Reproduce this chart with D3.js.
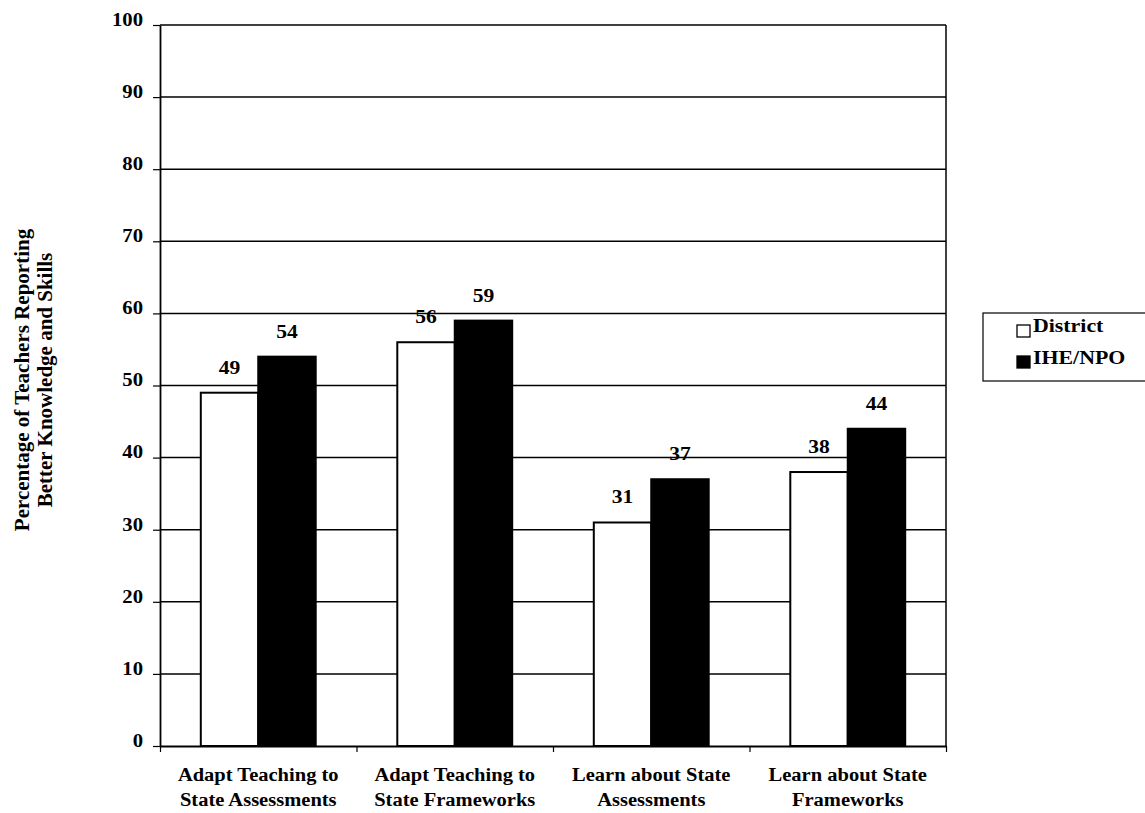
<!DOCTYPE html>
<html>
<head>
<meta charset="utf-8">
<script src="https://cdn.jsdelivr.net/npm/d3@7"></script>
<style>
  body { margin: 0; background: #fff; }
  svg { display: block; }
  text { font-family: "Liberation Serif", "Times New Roman", serif; font-weight: bold; fill: #000; }
</style>
</head>
<body>
<svg id="chart" width="1145" height="813"></svg>
<script>
// Categories (each label wraps onto two lines)
const categories = [
  "Adapt Teaching to State Assessments",
  "Adapt Teaching to State Frameworks",
  "Learn about State Assessments",
  "Learn about State Frameworks"
];
const categoryLines = [
  ["Adapt Teaching to", "State Assessments"],
  ["Adapt Teaching to", "State Frameworks"],
  ["Learn about State", "Assessments"],
  ["Learn about State", "Frameworks"]
];
const seriesNames = ["District", "IHE/NPO"];
const seriesFills = ["#ffffff", "#000000"];
const districtValues = [49, 56, 31, 38];
const iheNpoValues = [54, 59, 37, 44];
const yTicks = [0, 10, 20, 30, 40, 50, 60, 70, 80, 90, 100];
const yTitleLines = ["Percentage of Teachers Reporting", "Better Knowledge and Skills"];

const svg = d3.select("#chart");
const L = 160, R = 946, T = 25, B = 746;

const x0 = d3.scaleBand().domain(categories).range([L, R]).padding(0);
const x1 = d3.scaleBand().domain(seriesNames).range([0, x0.bandwidth()])
  .paddingInner(0).paddingOuter(0.71);
const y = d3.scaleLinear().domain([0, 100]).range([B, T]);
const color = d3.scaleOrdinal().domain(seriesNames).range(seriesFills);

// widen glyphs horizontally around their anchor point
function stretch(sel, k) {
  sel.each(function () {
    const t = d3.select(this);
    const tx = +t.attr("x") || 0, ty = +t.attr("y") || 0;
    t.attr("x", 0).attr("y", 0).attr("transform", `translate(${tx},${ty}) scale(${k},1)`);
  });
}

// horizontal gridlines
svg.append("g")
  .selectAll("line")
  .data(yTicks.filter(d => d > 0))
  .join("line")
  .attr("x1", L).attr("x2", R)
  .attr("y1", d => y(d)).attr("y2", d => y(d))
  .attr("stroke", "#000").attr("stroke-width", 1.5);

// right border of plot area
svg.append("line")
  .attr("x1", R).attr("x2", R).attr("y1", y(100)).attr("y2", y(0))
  .attr("stroke", "#000").attr("stroke-width", 1.5);

// bars
const rows = categories.map((c, i) => ({
  cat: c,
  vals: [
    { s: seriesNames[0], v: districtValues[i] },
    { s: seriesNames[1], v: iheNpoValues[i] }
  ]
}));

const groups = svg.append("g").selectAll("g")
  .data(rows).join("g")
  .attr("transform", d => `translate(${x0(d.cat)},0)`);

groups.selectAll("rect")
  .data(d => d.vals).join("rect")
  .attr("x", d => x1(d.s))
  .attr("width", x1.bandwidth())
  .attr("y", d => y(d.v))
  .attr("height", d => y(0) - y(d.v))
  .attr("fill", d => color(d.s))
  .attr("stroke", "#000").attr("stroke-width", 2);

// value labels
const vl = groups.selectAll("text.val")
  .data(d => d.vals).join("text")
  .attr("class", "val")
  .attr("x", d => x1(d.s) + x1.bandwidth() / 2)
  .attr("y", d => y(d.v) - 19)
  .attr("text-anchor", "middle")
  .attr("font-size", 18)
  .text(d => d.v);
stretch(vl, 1.2);

// y axis
const yAxis = svg.append("g")
  .attr("transform", `translate(${L},0)`)
  .call(d3.axisLeft(y).tickValues(yTicks).tickSize(7).tickSizeOuter(0).tickPadding(10));
yAxis.attr("font-family", null).attr("font-size", null);
yAxis.select(".domain").attr("stroke", "#000").attr("stroke-width", 1.8);
yAxis.selectAll(".tick line").attr("stroke", "#000").attr("stroke-width", 1.2);
yAxis.selectAll(".tick text")
  .attr("font-size", 18)
  .attr("dy", "0.02em")
  .attr("x", -17 / 1.15)
  .attr("transform", "scale(1.15,1)");

// x axis: boundary ticks
const xEdge = d3.scaleLinear().domain([0, categories.length]).range([L, R]);
const xTickAxis = svg.append("g")
  .attr("transform", `translate(0,${B})`)
  .call(d3.axisBottom(xEdge).tickValues(d3.range(categories.length + 1))
    .tickFormat("").tickSize(6).tickSizeOuter(0));
xTickAxis.select(".domain").attr("stroke", "#000").attr("stroke-width", 1.8);
xTickAxis.selectAll(".tick line").attr("stroke", "#000").attr("stroke-width", 1.2);

// x axis: category labels
const xLabelAxis = svg.append("g")
  .attr("transform", `translate(0,${B})`)
  .call(d3.axisBottom(x0).tickSize(0));
xLabelAxis.attr("font-family", null).attr("font-size", null);
xLabelAxis.select(".domain").remove();
xLabelAxis.selectAll(".tick text").each(function (d, i) {
  const t = d3.select(this);
  t.text(null).attr("y", null).attr("dy", null)
    .attr("font-size", 19)
    .attr("transform", "scale(1.08,1)");
  categoryLines[i].forEach((ln, j) => {
    t.append("tspan").attr("x", 0).attr("y", 35 + j * 25).text(ln);
  });
});

// y axis title
const yTitle = svg.append("g");
yTitleLines.forEach((ln, j) => {
  yTitle.append("text")
    .attr("text-anchor", "middle")
    .attr("font-size", 21)
    .attr("transform", `translate(${29 + j * 23},380) rotate(-90)`)
    .text(ln);
});

// legend
const legend = svg.append("g");
legend.append("rect")
  .attr("x", 983).attr("y", 313).attr("width", 170).attr("height", 68)
  .attr("fill", "#fff").attr("stroke", "#000").attr("stroke-width", 1.2);
const li = legend.selectAll("g.item")
  .data(seriesNames).join("g").attr("class", "item");
li.append("rect")
  .attr("x", 1017).attr("y", (d, i) => 325 + i * 31)
  .attr("width", 13).attr("height", 12)
  .attr("fill", d => color(d)).attr("stroke", "#000").attr("stroke-width", 1.3);
const lt = li.append("text")
  .attr("x", 1033).attr("y", (d, i) => 332 + i * 32)
  .attr("font-size", 19)
  .text(d => d);
stretch(lt, 1.15);
</script>
</body>
</html>
